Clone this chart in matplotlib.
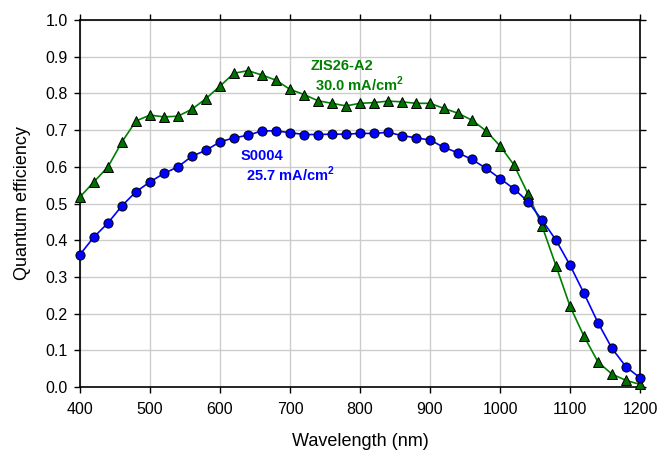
import matplotlib
matplotlib.use("Agg")
import matplotlib.pyplot as plt
import numpy as np

plt.rcParams["font.family"] = ["Liberation Sans", "DejaVu Sans"]
plt.rcParams["mathtext.fontset"] = "custom"
plt.rcParams["mathtext.rm"] = "Liberation Sans"
plt.rcParams["mathtext.bf"] = "Liberation Sans:bold"

# wavelengths in nm, 20 nm steps
wavelength = list(range(400, 1201, 20))

# S0004 (blue circles)
qe_s0004 = [
    0.361, 0.409, 0.447, 0.494, 0.532, 0.559, 0.582, 0.600, 0.629, 0.645,
    0.668, 0.679, 0.686, 0.698, 0.698, 0.693, 0.688, 0.688, 0.689, 0.689,
    0.691, 0.691, 0.694, 0.685, 0.679, 0.673, 0.653, 0.638, 0.620, 0.596,
    0.568, 0.540, 0.505, 0.455, 0.400, 0.332, 0.255, 0.175, 0.105, 0.055,
    0.025,
]

# ZIS26-A2 (green triangles)
qe_zis26 = [
    0.518, 0.559, 0.600, 0.668, 0.725, 0.741, 0.736, 0.738, 0.757, 0.786,
    0.820, 0.855, 0.862, 0.850, 0.836, 0.811, 0.797, 0.780, 0.773, 0.766,
    0.773, 0.775, 0.779, 0.777, 0.773, 0.773, 0.759, 0.746, 0.727, 0.698,
    0.657, 0.605, 0.526, 0.439, 0.330, 0.220, 0.138, 0.068, 0.035, 0.018,
    0.007,
]

x_ticks = list(range(400, 1201, 100))
y_ticks = [i / 10 for i in range(11)]

fig = plt.figure(figsize=(6.59, 4.54), dpi=100)
ax = fig.add_axes([0.1214, 0.1476, 0.8498, 0.8083])

ax.plot(wavelength, qe_zis26, "-", color="#008000", lw=1.2, zorder=3,
        clip_on=False)
ax.plot(wavelength, qe_zis26, "^", ms=7.5, mfc="#007000", mec="black",
        mew=0.7, zorder=4, clip_on=False)
ax.plot(wavelength, qe_s0004, "-", color="#0000ff", lw=1.2, zorder=3,
        clip_on=False)
ax.plot(wavelength, qe_s0004, "o", ms=6.6, mfc="#0000ff", mec="black",
        mew=0.7, zorder=5, clip_on=False)

ax.text(729, 0.875, "ZIS26-A2", color="#008000", fontsize=10.5,
        fontweight="bold", va="center", ha="left")
ax.text(736, 0.826, r"30.0 mA/cm$^\mathbf{2}$", color="#008000",
        fontsize=10.5, fontweight="bold", va="center", ha="left")
ax.text(629, 0.629, "S0004", color="#0000ff", fontsize=10.5,
        fontweight="bold", va="center", ha="left")
ax.text(637, 0.580, r"25.7 mA/cm$^\mathbf{2}$", color="#0000ff",
        fontsize=10.5, fontweight="bold", va="center", ha="left")

ax.set_xlim(400, 1200)
ax.set_ylim(0, 1.0)
ax.set_xticks(x_ticks)
ax.set_yticks(y_ticks)
ax.set_yticklabels([f"{v:.1f}" for v in y_ticks])
ax.grid(True, color="#cccccc", lw=1.0, zorder=0)
ax.set_axisbelow(True)

for side in ["left", "bottom", "right", "top"]:
    ax.spines[side].set_linewidth(1.2)
    ax.spines[side].set_color("black")

ax.tick_params(axis="both", which="major", direction="out", length=4,
               width=1.0, labelsize=11.5, top=True, right=True,
               labeltop=False, labelright=False)
ax.tick_params(axis="x", pad=7)
ax.tick_params(axis="y", pad=5)

ax.set_xlabel("Wavelength (nm)", fontsize=13, labelpad=11)
ax.set_ylabel("Quantum efficiency", fontsize=13, labelpad=10)

fig.savefig("out.png", dpi=100)
